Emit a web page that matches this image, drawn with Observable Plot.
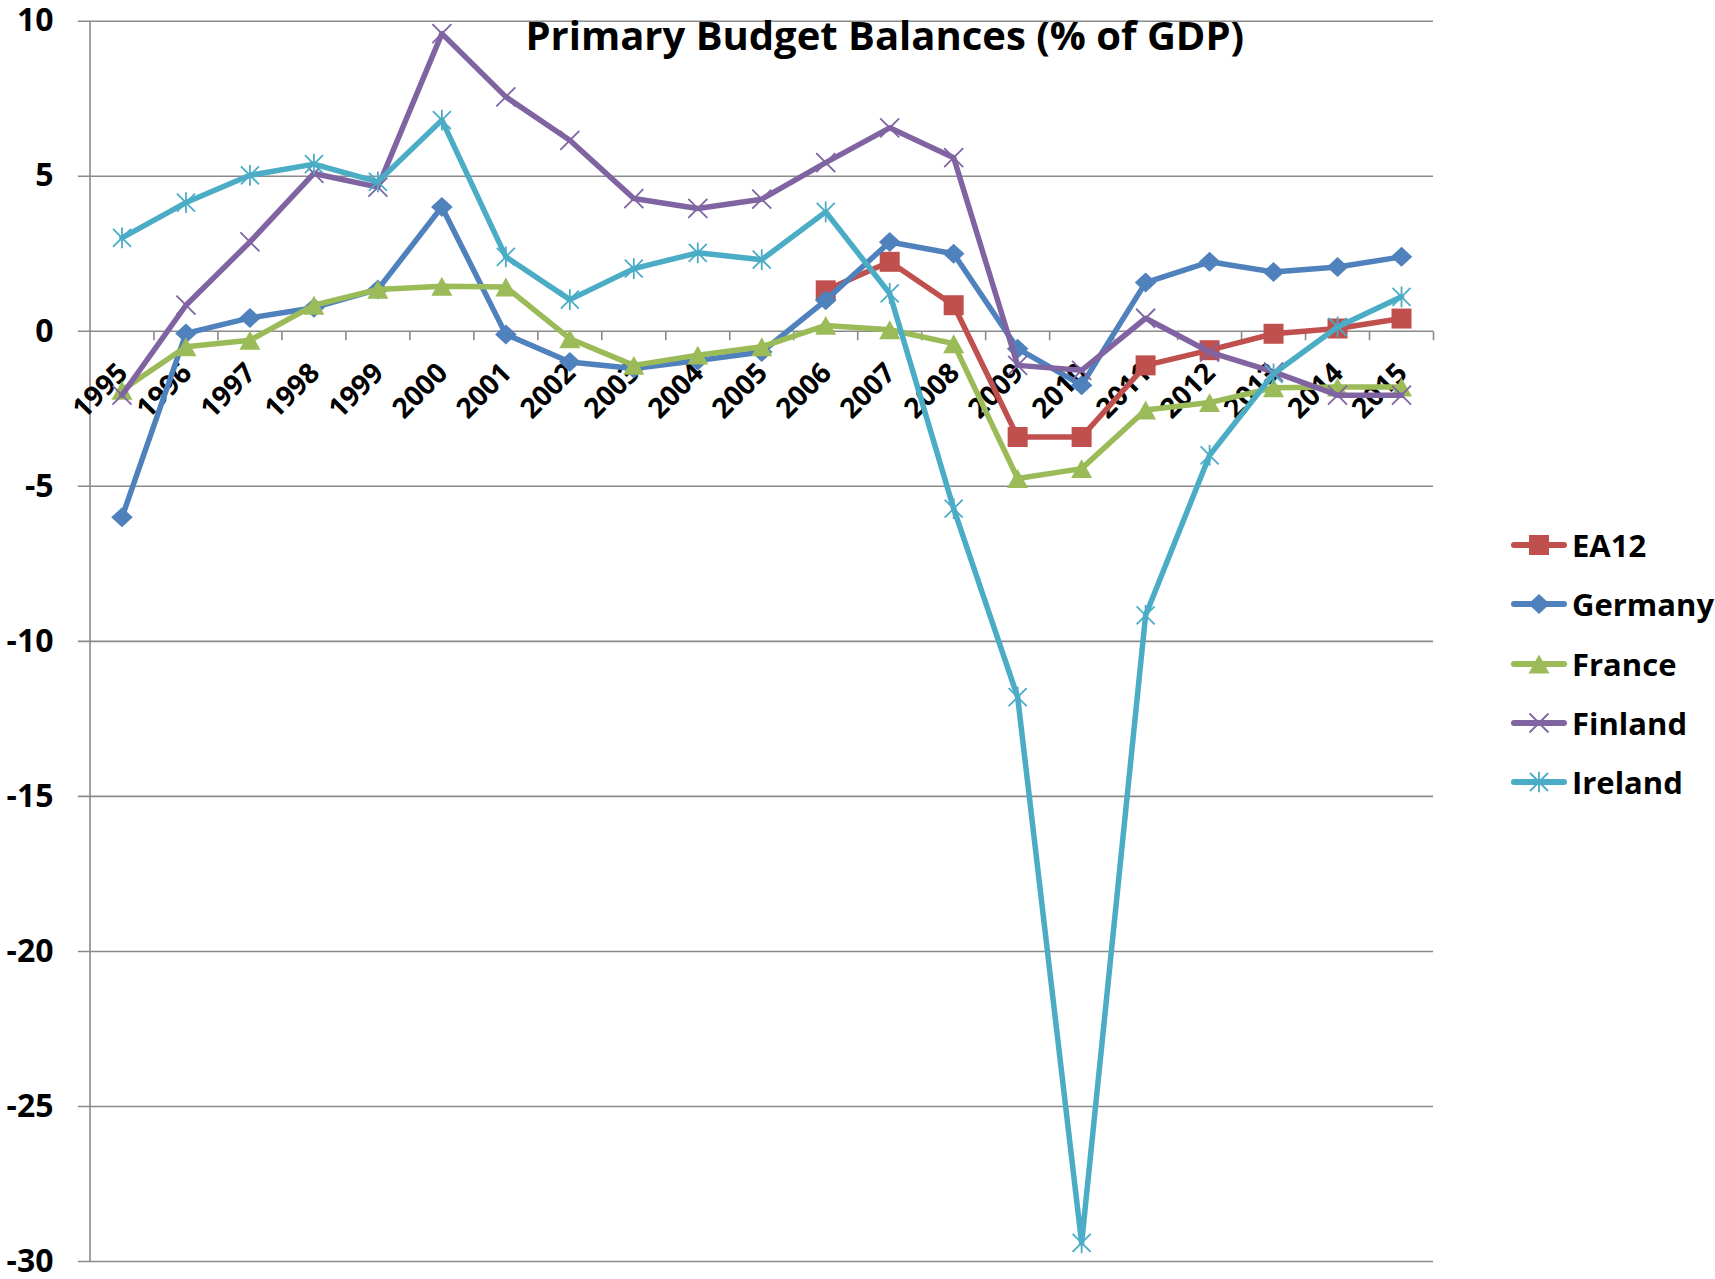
<!DOCTYPE html>
<html>
<head>
<meta charset="utf-8">
<script src="https://cdn.jsdelivr.net/npm/d3@7"></script>
<script src="https://cdn.jsdelivr.net/npm/@observablehq/plot@0.6"></script>
<style>
  html, body { margin: 0; padding: 0; background: #fff; }
  #wrap { position: relative; width: 1715px; height: 1279px; overflow: hidden; }
  #wrap svg { display: block; }
  .leg { position: absolute; left: 1511px; height: 40px; display: flex; align-items: center;
         font-family: "Open Sans", sans-serif; font-weight: 700; font-size: 31px; color: #000; white-space: nowrap; }
  .leg svg { flex: none; margin-right: 5px; }
</style>
</head>
<body>
<div id="wrap"></div>
<script>
// ---------- data ----------
const title = "Primary Budget Balances (% of GDP)";
const years = [1995,1996,1997,1998,1999,2000,2001,2002,2003,2004,2005,2006,2007,2008,2009,2010,2011,2012,2013,2014,2015];
const seriesNames = ["EA12", "Germany", "France", "Finland", "Ireland"];
const ea12    = [null,null,null,null,null,null,null,null,null,null,null, 1.32, 2.24, 0.84, -3.41, -3.41, -1.10, -0.61, -0.08, 0.09, 0.41];
const germany = [-6.00, -0.07, 0.43, 0.76, 1.35, 4.01, -0.10, -0.99, -1.20, -0.94, -0.67, 1.00, 2.88, 2.50, -0.56, -1.74, 1.57, 2.24, 1.91, 2.07, 2.40];
const france  = [-1.90, -0.50, -0.29, 0.84, 1.35, 1.45, 1.43, -0.24, -1.10, -0.77, -0.50, 0.19, 0.05, -0.40, -4.75, -4.43, -2.54, -2.30, -1.82, -1.80, -1.80];
const finland = [-2.06, 0.84, 2.88, 5.09, 4.65, 9.60, 7.56, 6.16, 4.28, 3.96, 4.26, 5.44, 6.56, 5.60, -1.10, -1.26, 0.42, -0.67, -1.31, -2.06, -2.06];
const ireland = [3.01, 4.15, 5.03, 5.39, 4.82, 6.81, 2.40, 1.02, 2.02, 2.53, 2.31, 3.85, 1.22, -5.72, -11.80, -29.40, -9.16, -4.00, -1.37, 0.14, 1.11];
const yTicks = [-30, -25, -20, -15, -10, -5, 0, 5, 10];

// ---------- styles ----------
const colors = ["#C0504D", "#4F81BD", "#9BBB59", "#8064A2", "#4BACC6"];
const gridColor = "#8a8a8a";
const FONT = "'Open Sans', sans-serif";

// custom marker symbols: r (= sqrt(size/PI)) is the half extent in px
const half = size => Math.sqrt(size / Math.PI);
const squareSym = { draw(c, s) { const r = half(s); c.moveTo(-r, -r); c.lineTo(r, -r); c.lineTo(r, r); c.lineTo(-r, r); c.closePath(); } };
const diamondSym = { draw(c, s) { const r = half(s); c.moveTo(0, -r); c.lineTo(r * 1.08, 0); c.lineTo(0, r); c.lineTo(-r * 1.08, 0); c.closePath(); } };
const triangleSym = { draw(c, s) { const r = half(s); const h = r * 0.9; c.moveTo(0, -h); c.lineTo(r, h); c.lineTo(-r, h); c.closePath(); } };
const timesSym = { draw(c, s) { const r = half(s); c.moveTo(-r, -r); c.lineTo(r, r); c.moveTo(-r, r); c.lineTo(r, -r); } };
const starSym = { draw(c, s) { const r = half(s); c.moveTo(-r, -r); c.lineTo(r, r); c.moveTo(-r, r); c.lineTo(r, -r); c.moveTo(0, -r * 1.15); c.lineTo(0, r * 1.15); } };
const tickSym = { draw(c, s) { const r = half(s); c.moveTo(0, 0); c.lineTo(0, r); } };

const markers = [
  { symbol: squareSym,   r: 10,  filled: true },
  { symbol: diamondSym,  r: 10,  filled: true },
  { symbol: triangleSym, r: 10.5, filled: true },
  { symbol: timesSym,    r: 9.5, filled: false },
  { symbol: starSym,     r: 9,   filled: false }
];

// ---------- table ----------
const seriesValues = [ea12, germany, france, finland, ireland];
const table = seriesNames.map((name, i) =>
  years.map((year, j) => ({ series: name, year, value: seriesValues[i][j] }))
       .filter(d => d.value !== null && d.value !== undefined)
);
const edges = [years[0] - 0.5, ...years.map(y => y + 0.5)];

// ---------- marks ----------
const marks = [
  Plot.ruleY(yTicks, { y: d => d, stroke: gridColor, strokeWidth: 1.6, insetLeft: -11.6 }),
  Plot.ruleX([edges[0]], { x: d => d, stroke: gridColor, strokeWidth: 1.6 }),
  Plot.dot(edges.slice(1), { x: d => d, y: () => 0, symbol: tickSym, r: 9, stroke: gridColor, strokeWidth: 1.6, fill: "none" }),
  Plot.text(yTicks, { y: d => d, text: d => String(d), frameAnchor: "left", textAnchor: "end", dx: -36.5,
                      fontSize: 32, fontWeight: "bold", fill: "#000" }),
  Plot.text(years, { x: d => d, y: () => 0, text: d => String(d), rotate: -45, textAnchor: "end",
                     dy: 37, dx: 1, fontSize: 28, fontWeight: "bold", fill: "#000" }),
  Plot.text([title], { text: d => d, frameAnchor: "top", lineAnchor: "top", dx: 123, dy: 0,
                       fontSize: 40, fontWeight: "bold", fill: "#000" })
];

table.forEach((rows, i) => {
  const m = markers[i];
  marks.push(Plot.line(rows, { x: "year", y: "value", stroke: colors[i], strokeWidth: 5.5,
                                strokeLinejoin: "round", strokeLinecap: "round" }));
  marks.push(Plot.dot(rows, { x: "year", y: "value", symbol: m.symbol, r: m.r,
                               fill: m.filled ? colors[i] : "none",
                               stroke: m.filled ? "none" : colors[i],
                               strokeWidth: m.filled ? 0 : 1.8 }));
});

const chart = Plot.plot({
  width: 1715,
  height: 1279,
  marginLeft: 89.5,
  marginRight: 282,
  marginTop: 20.7,
  marginBottom: 18,
  x: { type: "linear", domain: [edges[0], edges[edges.length - 1]], axis: null },
  y: { domain: [-30, 10], axis: null },
  style: { fontFamily: FONT, background: "#fff", overflow: "visible" },
  marks
});

const wrap = document.getElementById("wrap");
wrap.appendChild(chart);

// ---------- legend ----------
const legendTop = 545, legendStep = 59.3;
seriesNames.forEach((name, i) => {
  const m = markers[i];
  const row = document.createElement("div");
  row.className = "leg";
  row.style.top = (legendTop + i * legendStep - 20) + "px";
  const svg = d3.create("svg").attr("width", 56).attr("height", 40);
  svg.append("line").attr("x1", 3).attr("x2", 53).attr("y1", 20).attr("y2", 20)
     .attr("stroke", colors[i]).attr("stroke-width", 6).attr("stroke-linecap", "round");
  svg.append("path").attr("transform", "translate(28,20)")
     .attr("d", d3.symbol(m.symbol, Math.PI * m.r * m.r)())
     .attr("fill", m.filled ? colors[i] : "none")
     .attr("stroke", m.filled ? "none" : colors[i])
     .attr("stroke-width", m.filled ? 0 : 1.8);
  row.appendChild(svg.node());
  const span = document.createElement("span");
  span.textContent = name;
  row.appendChild(span);
  wrap.appendChild(row);
});
</script>
</body>
</html>
